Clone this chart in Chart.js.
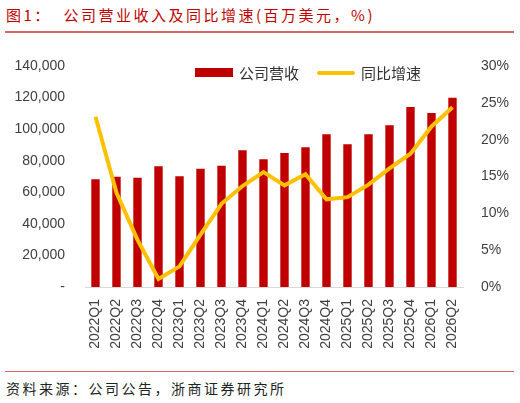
<!DOCTYPE html>
<html><head><meta charset="utf-8">
<script src="https://cdn.jsdelivr.net/npm/chart.js@4/dist/chart.umd.min.js"></script>
<style>
body{margin:0;width:520px;height:403px;background:#fff;position:relative;overflow:hidden;font-family:"Noto Sans CJK SC",sans-serif}
#title{position:absolute;left:6px;top:4px;font-size:15px;color:#C00000;letter-spacing:2.5px}
#tl{position:absolute;left:5px;top:31px;width:509px;height:2px;background:#D9676A}
#bl{position:absolute;left:5px;top:371px;width:509px;height:1px;background:#D9676A}
#src{position:absolute;left:6px;top:378px;font-size:14px;color:#222;letter-spacing:2.5px}
#wrap{position:absolute;left:0;top:40px;width:520px;height:330px}
#leg{position:absolute;top:62px;left:195px;font-size:15px;color:#333;display:flex;align-items:center}
.sw{display:inline-block;margin-right:6px}
</style></head><body>
<div id="title">图1：&nbsp;&nbsp;公司营业收入及同比增速(百万美元，%)</div>
<div id="tl"></div>
<div id="wrap"><canvas id="c"></canvas></div>
<div id="leg"><span class="sw" style="width:38px;height:9px;background:#C00000"></span>公司营收<span class="sw" style="width:38px;height:4px;background:#FFC000;border-radius:2px;margin-left:18px"></span>同比增速</div>
<div id="bl"></div>
<div id="src">资料来源：公司公告，浙商证券研究所</div>
<script>
const categories=["2022Q1","2022Q2","2022Q3","2022Q4","2023Q1","2023Q2","2023Q3","2023Q4","2024Q1","2024Q2","2024Q3","2024Q4","2025Q1","2025Q2","2025Q3","2025Q4","2026Q1","2026Q2"];
const revenue=[68200,69900,69200,76500,70100,74900,76800,86600,80900,84900,88500,96700,90400,96700,102400,114000,110200,119900];
const growth=[23.1,12.8,6.4,1.1,2.8,7.1,11.3,13.7,15.6,13.8,15.3,11.9,12.2,13.9,16.1,18.1,21.8,24.4];
const tickFont={family:"Liberation Sans",size:14};
new Chart(document.getElementById('c'),{
 data:{labels:categories,datasets:[
  {type:'line',label:'同比增速',data:growth,yAxisID:'y1',borderColor:'#FFC000',borderWidth:4,pointRadius:0,tension:0,order:0},
  {type:'bar',label:'公司营收',data:revenue,yAxisID:'y',backgroundColor:'#C00000',barPercentage:0.4,categoryPercentage:1,order:1}
 ]},
 options:{responsive:true,maintainAspectRatio:false,animation:false,
  layout:{padding:{top:26,left:0,right:0,bottom:0}},
  plugins:{legend:{display:false},tooltip:{enabled:false}},
  scales:{
   x:{grid:{display:false},border:{color:'#D9D9D9'},ticks:{font:tickFont,color:'#404040',minRotation:90,maxRotation:90,padding:4},afterFit(s){s.height=83;}},
   y:{position:'left',min:0,max:140000,grid:{display:false},border:{display:false},
      ticks:{stepSize:20000,font:tickFont,color:'#404040',padding:12,callback:v=>v===0?'-':v.toLocaleString('en-US')},afterFit(s){s.width=85;}},
   y1:{position:'right',min:0,max:30,grid:{display:false},border:{display:false},
      ticks:{stepSize:5,font:tickFont,color:'#404040',padding:10,callback:v=>v+'%'},afterFit(s){s.width=57;}}
  }}
});
</script></body></html>
